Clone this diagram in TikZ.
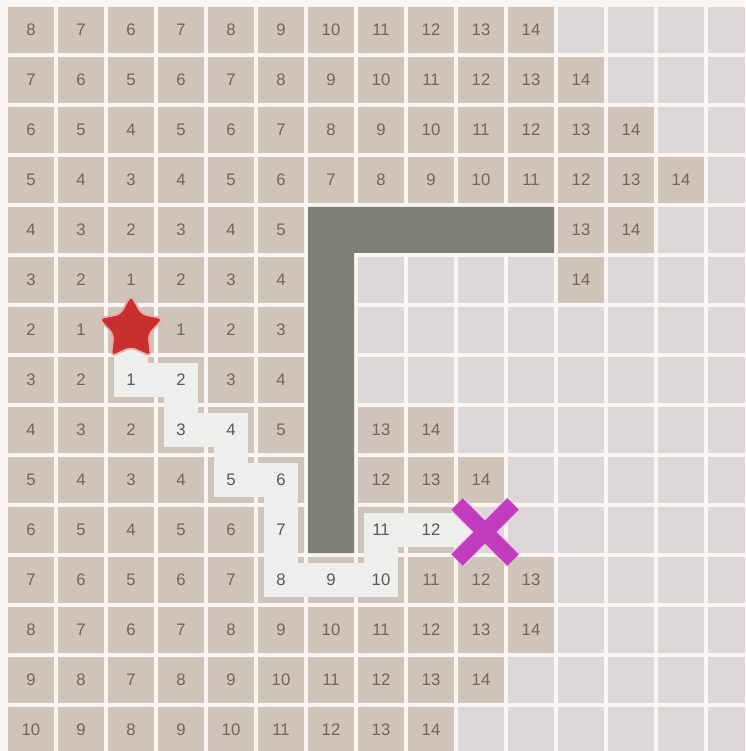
\documentclass[tikz,border=0pt]{standalone}
\usepackage{fontspec}
\setmainfont{Liberation Sans}
\usepackage{tikz}
\usetikzlibrary{positioning,shapes.geometric,shapes.misc}

\definecolor{gapcol}{RGB}{250,245,240}
\definecolor{freecol}{RGB}{221,215,217}
\definecolor{seencol}{RGB}{206,196,185}
\definecolor{numcol}{RGB}{112,102,94}
\definecolor{routecol}{RGB}{238,238,236}
\definecolor{routenum}{RGB}{88,88,88}
\definecolor{wallcol}{RGB}{126,128,117}
\definecolor{starcol}{RGB}{200,48,48}
\definecolor{goalcol}{RGB}{196,60,190}

\def\skipmark{-}
\def\routemark{p}

\begin{document}
\begin{tikzpicture}[
  font=\fontsize{9.5}{10}\selectfont,
  cell/.style={rectangle, inner sep=0pt, outer sep=0pt, minimum size=0.92cm},
  free/.style={cell, fill=freecol},
  seen/.style={cell, fill=seencol, text=numcol},
  route/.style={draw=routecol, line width=0.68cm, line join=miter},
  onroute/.style={cell, text=routenum},
  wall/.style={fill=wallcol},
  startstar/.style={
    star, star points=5, star point ratio=1.85,
    minimum size=1.36cm, inner sep=0pt,
    fill=starcol, draw=starcol!40, line width=1pt,
    rounded corners=3pt
  },
  goalx/.style={
    cross out, draw=goalcol, line width=0.32cm,
    minimum size=0.8cm, inner sep=0pt,
    preaction={draw=goalcol!30, line width=0.37cm}
  }
]

\useasboundingbox (0,0) rectangle (14.9,-15.02);
\clip (0,0) rectangle (14.9,-15.02);
\fill[gapcol] (0,0) rectangle (14.9,-15.02);

% --- Base grid of unvisited cells ---
\foreach \row in {0,...,14} {
  \foreach \col in {0,...,14} {
    \node[free] (g-\row-\col) at ({0.62+\col},{-0.60-\row}) {};
  }
}

% --- Visited cells with their distances (- = none, p = on the route) ---
\foreach \row/\vals in {
  0/{8,7,6,7,8,9,10,11,12,13,14},
  1/{7,6,5,6,7,8,9,10,11,12,13,14},
  2/{6,5,4,5,6,7,8,9,10,11,12,13,14},
  3/{5,4,3,4,5,6,7,8,9,10,11,12,13,14},
  4/{4,3,2,3,4,5,-,-,-,-,-,13,14},
  5/{3,2,1,2,3,4,-,-,-,-,-,14},
  6/{2,1,p,1,2,3},
  7/{3,2,p,p,3,4},
  8/{4,3,2,p,p,5,-,13,14},
  9/{5,4,3,4,p,p,-,12,13,14},
  10/{6,5,4,5,6,p,-,p,p},
  11/{7,6,5,6,7,p,p,p,11,12,13},
  12/{8,7,6,7,8,9,10,11,12,13,14},
  13/{9,8,7,8,9,10,11,12,13,14},
  14/{10,9,8,9,10,11,12,13,14}} {
  \foreach \v [count=\col from 0] in \vals {
    \ifx\v\skipmark\else
      \ifx\v\routemark
        \node[seen] (d-\row-\col) at (g-\row-\col) {};
      \else
        \node[seen] (d-\row-\col) at (g-\row-\col) {\v};
      \fi
    \fi
  }
}

% --- Shortest route from start to goal ---
\draw[route] (g-6-2.center) -- (g-7-2.center) -- (g-7-3.center)
  -- (g-8-3.center) -- (g-8-4.center) -- (g-9-4.center) -- (g-9-5.center)
  -- (g-10-5.center) -- (g-11-5.center) -- (g-11-6.center)
  -- (g-11-7.center) -- (g-10-7.center) -- (g-10-8.center)
  -- (g-10-9.center);

\foreach \row/\col/\v in {7/2/1, 7/3/2, 8/3/3, 8/4/4, 9/4/5, 9/5/6,
  10/5/7, 11/5/8, 11/6/9, 11/7/10, 10/7/11, 10/8/12} {
  \node[onroute] (p-\row-\col) at (g-\row-\col) {\v};
}

% --- L-shaped wall ---
\fill[wall] (g-4-6.north west) -- (g-4-10.north east) -- (g-4-10.south east)
  -- (g-4-6.south east) -- (g-10-6.south east) -- (g-10-6.south west) -- cycle;

% --- Start and goal markers ---
\node[startstar, yshift=0.02cm] (start) at (g-6-2) {};
\node[goalx, xshift=0.08cm, yshift=-0.04cm] (goal) at (g-10-9) {};

\end{tikzpicture}
\end{document}
